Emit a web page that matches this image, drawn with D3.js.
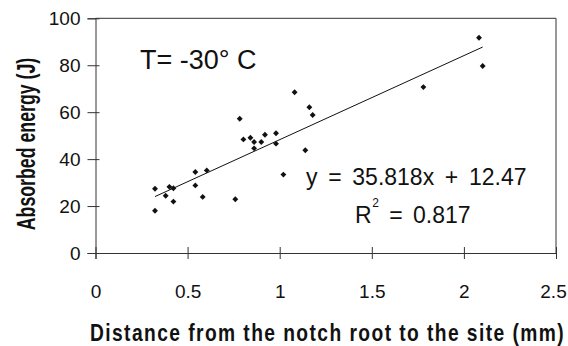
<!DOCTYPE html>
<html>
<head>
<meta charset="utf-8">
<script src="https://cdn.jsdelivr.net/npm/d3@7"></script>
<style>
  body { margin: 0; background: #fff; }
  text { font-family: "Liberation Sans", Arial, sans-serif; fill: #111; }
</style>
</head>
<body>
<script>
const w = 568
const h = 346

// distance (mm) and absorbed energy (J)
const distance = [0.323, 0.323, 0.381, 0.401, 0.423, 0.423, 0.542, 0.542, 0.582, 0.604,
  0.759, 0.783, 0.803, 0.841, 0.861, 0.861, 0.900, 0.920, 0.980, 0.980,
  1.020, 1.081, 1.139, 1.161, 1.179, 1.780, 2.082, 2.102]
const energy = [27.4, 18.0, 24.4, 28.2, 27.6, 21.9, 34.5, 28.8, 23.9, 35.2,
  22.9, 57.2, 48.4, 49.1, 47.3, 44.6, 47.3, 50.4, 51.0, 46.6,
  33.4, 68.5, 43.8, 62.1, 58.8, 70.7, 91.7, 79.7]
const xTicks = [0, 0.5, 1, 1.5, 2, 2.5]
const yTicks = [0, 20, 40, 60, 80, 100]
const slope = 35.818
const intercept = 12.47

const svg = d3.select('body').append('svg').attr('width', w).attr('height', h)

const x = d3.scaleLinear().domain([0, 2.5]).range([95.5, 556])
const y = d3.scaleLinear().domain([0, 100]).range([253, 18.3])

// frame (top + right)
svg.append('path')
  .attr('d', `M${x(0)},${y(100)}H${x(2.5)}V${y(0)}`)
  .attr('fill', 'none').attr('stroke', '#333').attr('stroke-width', 1)

const xAxis = svg.append('g').attr('transform', `translate(0,${y(0)})`)
  .call(d3.axisBottom(x).tickValues(xTicks).tickFormat(d3.format('')).tickSize(6).tickPadding(26))
xAxis.selectAll('.tick line').attr('y1', -6)
xAxis.selectAll('text').style('font-size', '19px')
  .attr('dx', d => d === 2.5 ? -3 : 0)  // last label sits against the edge

const yAxis = svg.append('g').attr('transform', `translate(${x(0)},0)`)
  .call(d3.axisLeft(y).tickValues(yTicks).tickSize(8).tickPadding(7))
yAxis.selectAll('.tick line').attr('x1', 4)
yAxis.selectAll('text').style('font-size', '19px').attr('dy', '0.35em')
svg.selectAll('.domain').attr('stroke', '#333')
svg.selectAll('.tick line').attr('stroke', '#333')

// trendline
const xMin = d3.min(distance)
const xMax = d3.max(distance)
svg.append('line')
  .attr('x1', x(xMin)).attr('y1', y(slope * xMin + intercept))
  .attr('x2', x(xMax)).attr('y2', y(slope * xMax + intercept))
  .attr('stroke', '#111').attr('stroke-width', 1)

// diamonds
svg.selectAll('.pt').data(distance).enter().append('path')
  .attr('class', 'pt')
  .attr('d', d3.symbol(d3.symbolDiamond2, 22))
  .attr('transform', (d, i) => `translate(${x(d)},${y(energy[i])})`)
  .attr('fill', '#111')

svg.append('text').attr('x', 140).attr('y', 69)
  .style('font-size', '27px').text('T= -30° C')

svg.append('text').attr('x', 306).attr('y', 185)
  .style('font-size', '23px').style('word-spacing', '4.3px')
  .text('y = ' + slope + 'x + ' + intercept)

const r2 = svg.append('text').attr('x', 355).attr('y', 223).style('font-size', '23px')
r2.append('tspan').text('R')
r2.append('tspan').attr('dx', 0.5).attr('dy', -16).style('font-size', '12px').text('2')
r2.append('tspan').attr('dy', 16).style('word-spacing', '4px').text(' = 0.817')

// axis titles, condensed
svg.append('text').attr('transform', 'translate(327.5,340.5) scale(0.8,1)')
  .attr('text-anchor', 'middle').style('font-size', '24px').style('font-weight', 'bold')
  .style('letter-spacing', '1.8px')
  .text('Distance from the notch root to the site (mm)')

svg.append('text').attr('transform', 'translate(35,144) rotate(-90) scale(0.71,1)')
  .attr('text-anchor', 'middle').style('font-size', '25px').style('font-weight', 'bold')
  .text('Absorbed energy (J)')
</script>
</body>
</html>
